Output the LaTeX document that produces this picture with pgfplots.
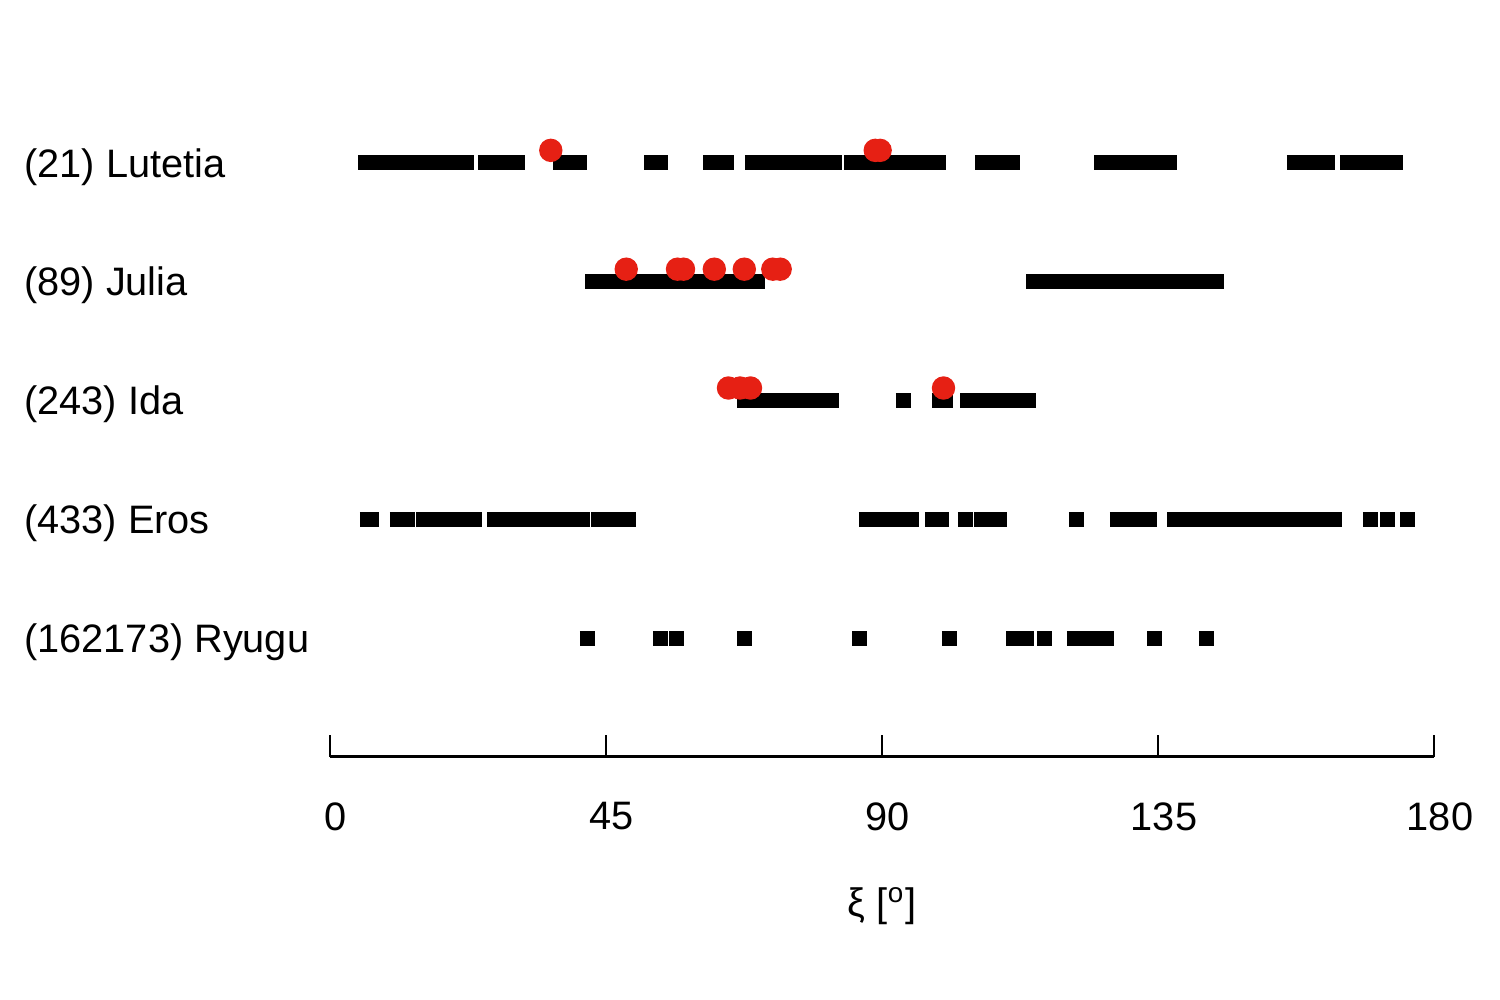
\documentclass[border=0pt]{standalone}
\usepackage{pgfplots}
\pgfplotsset{compat=1.18}
\usepackage{fontspec}
\setmainfont{Liberation Sans}
\definecolor{dotred}{RGB}{230,32,20}
\begin{document}
\begin{tikzpicture}
\useasboundingbox (-3.30,-2.43) rectangle (11.70,7.57);
\begin{axis}[
  scale only axis, width=11.04cm, height=7.13cm,
  xmin=0, xmax=180, ymin=0, ymax=6,
  clip=false,
  axis x line=bottom, axis y line*=left,
  x axis line style={-, line width=0.85pt},
  y axis line style={draw=none},
  xtick={0,45,90,135,180},
  tick align=inside,
  major tick length=2.2mm,
  xtick style={black, line width=0.5pt},
  ytick={1,2,3,4,5},
  yticklabels={(162173) Ryugu,(433) Eros,(243) Ida,(89) Julia,(21) Lutetia},
  ytick style={draw=none},
  /pgf/number format/assume math mode=true,
  tick label style={font=\fontsize{11.3}{13}\selectfont},
  label style={font=\fontsize{11.3}{13}\selectfont},
  xticklabel style={yshift=-3.3mm, xshift=0.6mm},
  yticklabel style={anchor=west, xshift=-3.18cm, yshift=-0.4mm},
  xlabel={ξ [\textsuperscript{o}]},
  xlabel style={at={(axis description cs:0.5,0)}, anchor=center, yshift=-14.9mm},
  unbounded coords=jump,
]
% Lutetia
\addplot[black, line width=1.5mm, line cap=butt] coordinates {
(4.57,5) (23.48,5) (nan,nan)
(24.13,5) (31.79,5) (nan,nan)
(36.36,5) (41.90,5) (nan,nan)
(51.20,5) (55.11,5) (nan,nan)
(60.82,5) (65.87,5) (nan,nan)
(67.66,5) (83.48,5) (nan,nan)
(83.80,5) (100.43,5) (nan,nan)
(105.16,5) (112.5,5) (nan,nan)
(124.57,5) (138.1,5) (nan,nan)
(156.03,5) (163.86,5) (nan,nan)
(164.67,5) (174.95,5)
};
% Julia
\addplot[black, line width=1.5mm, line cap=butt] coordinates {
(41.58,4) (70.92,4) (nan,nan)
(113.48,4) (145.76,4)
};
% Ida
\addplot[black, line width=1.5mm, line cap=butt] coordinates {
(66.36,3) (83.0,3) (nan,nan)
(92.28,3) (94.73,3) (nan,nan)
(98.15,3) (101.58,3) (nan,nan)
(102.72,3) (115.11,3)
};
% Eros
\addplot[black, line width=1.5mm, line cap=butt] coordinates {
(4.89,2) (7.99,2) (nan,nan)
(9.78,2) (13.86,2) (nan,nan)
(14.02,2) (24.78,2) (nan,nan)
(25.6,2) (42.39,2) (nan,nan)
(42.55,2) (49.89,2) (nan,nan)
(86.25,2) (96.03,2) (nan,nan)
(97.01,2) (100.92,2) (nan,nan)
(102.39,2) (104.84,2) (nan,nan)
(105.0,2) (110.38,2) (nan,nan)
(120.49,2) (122.93,2) (nan,nan)
(127.17,2) (134.84,2) (nan,nan)
(136.47,2) (165.0,2) (nan,nan)
(168.42,2) (170.87,2) (nan,nan)
(171.2,2) (173.64,2) (nan,nan)
(174.46,2) (176.9,2)
};
% Ryugu
\addplot[black, line width=1.5mm, line cap=butt] coordinates {
(40.76,1) (43.21,1) (nan,nan)
(52.66,1) (55.11,1) (nan,nan)
(55.27,1) (57.72,1) (nan,nan)
(66.36,1) (68.8,1) (nan,nan)
(85.11,1) (87.55,1) (nan,nan)
(99.78,1) (102.23,1) (nan,nan)
(110.22,1) (114.78,1) (nan,nan)
(115.27,1) (117.72,1) (nan,nan)
(120.16,1) (127.83,1) (nan,nan)
(133.21,1) (135.65,1) (nan,nan)
(141.68,1) (144.13,1)
};
% red dots
\addplot[only marks, mark=*, mark size=1.1mm, color=dotred, mark options={draw=dotred, fill=dotred}] coordinates {
(36.0,5.105) (88.9,5.105) (89.7,5.105)
(48.3,4.105) (56.66,4.105) (57.64,4.105) (62.66,4.105) (67.55,4.105) (72.2,4.105) (73.4,4.105)
(64.97,3.105) (66.85,3.105) (68.56,3.105) (100.03,3.105)
};
\end{axis}
\end{tikzpicture}
\end{document}
